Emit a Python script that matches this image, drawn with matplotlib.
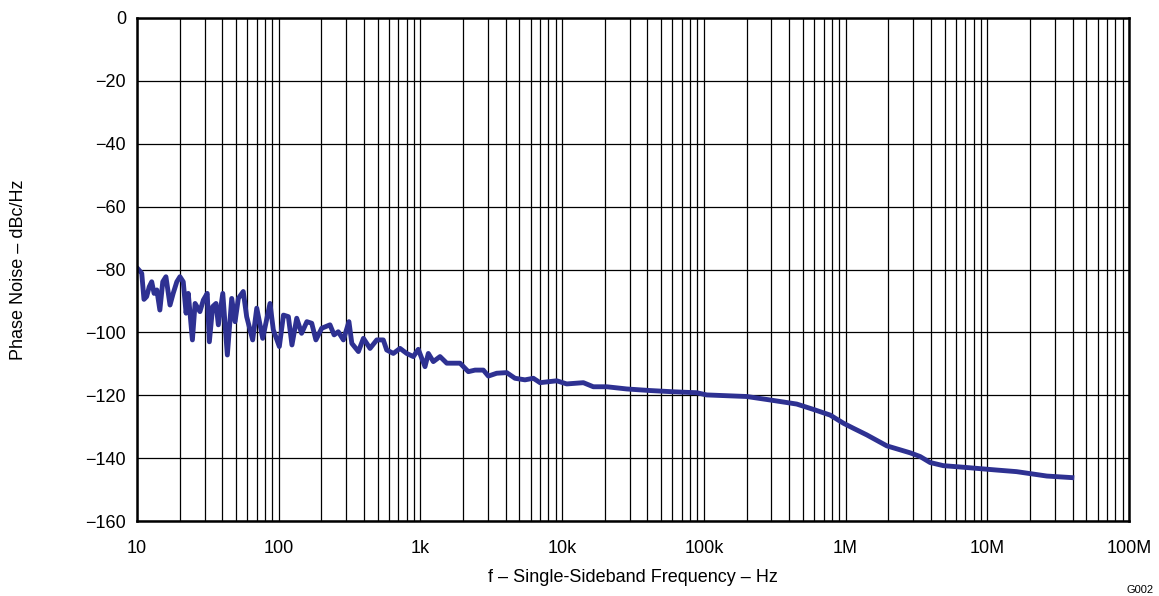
import matplotlib.pyplot as plt
from matplotlib.ticker import FixedLocator, LogLocator, NullFormatter

plt.rcParams['font.family'] = ['Liberation Sans', 'DejaVu Sans']

##################
## data

freq_hz = [10.2, 10.8, 11.2, 11.7, 12.2, 12.7, 13.2, 13.8, 14.5, 15.2,
           16.0, 17.1, 18.0, 19.1, 20.1, 21.2, 22.2, 23.0, 24.6, 25.7,
           27.8, 29.4, 31.3, 32.4, 34.2, 36.1, 37.5, 40.3, 43.4, 46.6,
           49.2, 51.9, 56.2, 59.4, 65.5, 70.0, 77.1, 86.8, 91.6, 101,
           108, 117, 124, 134, 145, 158, 171, 183, 201, 230,
           246, 263, 286, 313, 328, 365, 396, 441, 492, 547,
           578, 644, 718, 800, 891, 966, 1077, 1137, 1233, 1375,
           1534, 1706, 1903, 2178, 2428, 2779, 3014, 3453, 4063, 4648,
           5467, 6262, 6982, 9160, 10770, 14120, 16600, 20640, 28580, 41700,
           60970, 89100, 104800, 200700, 293000, 452000, 593000, 778000, 966000, 1135000,
           1410000, 1955000, 2850000, 3360000, 3950000, 4900000, 6780000, 11700000, 16100000, 26300000,
           39500000]

noise_dbc = [-79.9, -81.2, -89.5, -88.6, -85.5, -83.9, -87.6, -86.5, -92.9, -83.9,
             -82.3, -91.3, -87.6, -83.9, -82.3, -83.9, -93.9, -87.6, -102.4, -90.8,
             -93.4, -89.7, -87.6, -103.0, -91.8, -90.8, -97.6, -87.6, -107.2, -89.2,
             -96.6, -89.2, -87.0, -95.0, -102.4, -92.3, -101.9, -90.8, -99.2, -104.5,
             -94.5, -95.0, -104.0, -95.5, -100.3, -96.6, -97.1, -102.4, -98.7, -97.6,
             -100.8, -99.8, -102.4, -96.6, -103.5, -106.1, -101.9, -105.1, -102.4, -102.4,
             -105.6, -106.7, -105.1, -106.7, -107.7, -105.4, -110.9, -106.7, -109.3, -107.7,
             -109.8, -109.8, -109.8, -112.5, -112.0, -112.0, -113.9, -113.0, -112.8, -114.6,
             -115.1, -114.6, -116.0, -115.4, -116.4, -116.0, -117.3, -117.3, -118.0, -118.5,
             -118.9, -119.2, -119.9, -120.4, -121.5, -122.8, -124.5, -126.3, -128.9, -130.5,
             -132.6, -136.1, -138.3, -139.5, -141.4, -142.4, -142.9, -143.8, -144.3, -145.7,
             -146.2]

x_ticks = [1e1, 1e2, 1e3, 1e4, 1e5, 1e6, 1e7, 1e8]
x_tick_labels = ['10', '100', '1k', '10k', '100k', '1M', '10M', '100M']
y_ticks = [0, -20, -40, -60, -80, -100, -120, -140, -160]

#######################
## plot

fig = plt.figure(figsize=(11.59, 5.96), dpi=100)
ax = fig.add_axes([137 / 1159, 1 - 521 / 596, (1129 - 137) / 1159, (521 - 18) / 596])

ax.plot(freq_hz, noise_dbc, color='#2E3192', linewidth=3.5, solid_joinstyle='round')

ax.set_xscale('log')
ax.set_xlim(10, 1e8)
ax.set_ylim(-160, 0)

ax.xaxis.set_major_locator(FixedLocator(x_ticks))
ax.set_xticklabels(x_tick_labels)
ax.xaxis.set_minor_locator(LogLocator(base=10, subs=range(2, 10), numticks=20))
ax.xaxis.set_minor_formatter(NullFormatter())
ax.set_yticks(y_ticks)
ax.set_yticklabels([str(v).replace('-', '\u2212') for v in y_ticks])

ax.grid(True, which='major', color='black', linewidth=0.9)
ax.grid(True, which='minor', axis='x', color='black', linewidth=0.9)
ax.tick_params(which='both', length=0, labelsize=13, colors='black')
ax.tick_params(axis='x', pad=14)
ax.tick_params(axis='y', pad=8)

for sp in ax.spines.values():
    sp.set_linewidth(1.8)

ax.set_xlabel('f \u2013 Single-Sideband Frequency \u2013 Hz', fontsize=13, labelpad=8)
ax.set_ylabel('Phase Noise \u2013 dBc/Hz', fontsize=13, labelpad=42)

fig.text(1140 / 1159, 1 - 590 / 596, 'G002', fontsize=8, ha='center', va='center')

plt.savefig('out.png', dpi=100)
plt.close()
